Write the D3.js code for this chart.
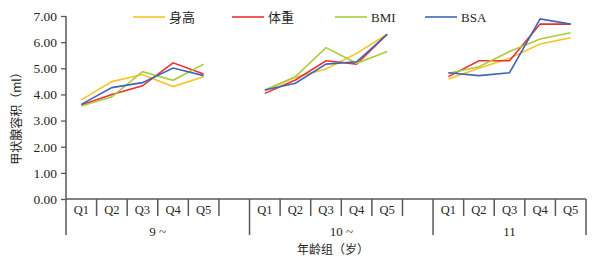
<!DOCTYPE html>
<html>
<head>
<meta charset="utf-8">
<script src="https://cdn.jsdelivr.net/npm/d3@7"></script>
<style>
  body { margin: 0; background: #fff; }
  text { fill: #262626; }
</style>
</head>
<body>
<div id="my_chart"></div>
<script>
// data
const groups = ["9 ~", "10 ~", "11"];
const quintiles = ["Q1", "Q2", "Q3", "Q4", "Q5"];
const seriesNames = ["身高", "体重", "BMI", "BSA"];
const seriesColors = ["#f7c325", "#ec2f2f", "#a8cc3c", "#3e66b8"];
// one value per slot, null where the empty slot between groups is
const heightVals = [3.79, 4.49, 4.76, 4.30, 4.68, null, 4.14, 4.66, 4.97, 5.57, 6.30, null, 4.59, 5.00, 5.38, 5.93, 6.17];
const weightVals = [3.60, 4.00, 4.33, 5.21, 4.78, null, 4.04, 4.55, 5.29, 5.16, 6.30, null, 4.68, 5.29, 5.29, 6.69, 6.69];
const bmiVals    = [3.56, 3.91, 4.87, 4.54, 5.16, null, 4.17, 4.68, 5.79, 5.19, 5.64, null, 4.81, 5.06, 5.64, 6.12, 6.36];
const bsaVals    = [3.62, 4.26, 4.45, 5.01, 4.72, null, 4.17, 4.43, 5.16, 5.25, 6.30, null, 4.83, 4.72, 4.83, 6.89, 6.69];
const yTicks = [0, 1, 2, 3, 4, 5, 6, 7];

// slots on the x axis: five quintiles per age group, one blank slot after the first two groups
const slots = [];
groups.forEach((g, gi) => {
  quintiles.forEach(q => slots.push({ id: g + q, label: q, group: gi }));
  if (gi < groups.length - 1) slots.push({ id: g + "_gap", label: "", group: gi });
});

const width = 594, height = 261;
const margin = {top: 16, right: 8, bottom: 62, left: 66};
const axisColor = "#595959";
const serif = "'Liberation Serif', 'Times New Roman', serif";
const cjk = "'Noto Sans CJK SC', sans-serif";

const svg = d3.select("#my_chart")
  .append("svg")
    .attr("width", width)
    .attr("height", height);

const x = d3.scaleBand()
  .domain(slots.map(d => d.id))
  .range([margin.left, width - margin.right])
  .padding(0);

const y = d3.scaleLinear()
  .domain([0, 7])
  .range([height - margin.bottom, margin.top]);

const y0 = y(0);

// Y axis
const yAxis = svg.append("g")
  .attr("transform", `translate(${margin.left},0)`)
  .call(d3.axisLeft(y).tickValues(yTicks).tickFormat(d3.format(".2f")).tickSize(5).tickPadding(4));
yAxis.select(".domain").remove();
yAxis.selectAll("line").attr("stroke", axisColor).attr("stroke-width", 1.3);
yAxis.selectAll("text")
  .attr("font-family", serif)
  .attr("font-size", 13.5)
  .attr("fill", "#262626");

// y axis line runs down through the category area
svg.append("line")
  .attr("x1", margin.left).attr("x2", margin.left)
  .attr("y1", y(7)).attr("y2", y0 + 36)
  .attr("stroke", axisColor).attr("stroke-width", 1.5);

// x axis baseline
svg.append("line")
  .attr("x1", margin.left).attr("x2", width - margin.right)
  .attr("y1", y0).attr("y2", y0)
  .attr("stroke", axisColor).attr("stroke-width", 1.5);

// slot separators: short ones between quintiles, long ones between groups
const bounds = slots.map((d, i) => ({
  pos: x(d.id) + x.bandwidth(),
  long: i === slots.length - 1 || slots[i + 1].group !== d.group
}));
svg.append("g").selectAll("line")
  .data(bounds)
  .join("line")
    .attr("x1", d => d.pos).attr("x2", d => d.pos)
    .attr("y1", y0)
    .attr("y2", d => d.long ? y0 + 36 : y0 + 17)
    .attr("stroke", axisColor)
    .attr("stroke-width", 1.5);

// quintile labels
svg.append("g").selectAll("text")
  .data(slots.filter(d => d.label))
  .join("text")
    .attr("x", d => x(d.id) + x.bandwidth() / 2)
    .attr("y", y0 + 15)
    .attr("text-anchor", "middle")
    .attr("font-family", serif)
    .attr("font-size", 12.5)
    .text(d => d.label);

// group labels centred under their slots
svg.append("g").selectAll("text")
  .data(groups)
  .join("text")
    .attr("x", (g, gi) => {
      const s = slots.filter(d => d.group === gi);
      return (x(s[0].id) + x(s[s.length - 1].id) + x.bandwidth()) / 2;
    })
    .attr("y", y0 + 37)
    .attr("text-anchor", "middle")
    .attr("font-family", serif)
    .attr("font-size", 13)
    .text(d => d);

// axis titles
svg.append("text")
  .attr("x", 333)
  .attr("y", y0 + 55)
  .attr("text-anchor", "middle")
  .attr("font-family", cjk)
  .attr("font-size", 12)
  .text("年龄组（岁）");

svg.append("text")
  .attr("transform", `translate(21,${(y(0) + y(7)) / 2 + 8})rotate(-90)`)
  .attr("text-anchor", "middle")
  .attr("font-family", cjk)
  .attr("font-size", 12)
  .text("甲状腺容积（ml）");

// lines, broken at the blank slots
const allSeries = [heightVals, weightVals, bmiVals, bsaVals];
const line = d3.line()
  .defined(d => d.v != null)
  .x(d => x(d.id) + x.bandwidth() / 2)
  .y(d => y(d.v));

svg.append("g").selectAll("path")
  .data(allSeries)
  .join("path")
    .attr("fill", "none")
    .attr("stroke", (d, i) => seriesColors[i])
    .attr("stroke-width", 1.6)
    .attr("stroke-linejoin", "miter")
    .attr("d", vals => line(vals.map((v, i) => ({ id: slots[i].id, v }))));

// legend
const legendX = [133, 232, 335, 425];
const legend = svg.append("g").selectAll("g")
  .data(seriesNames)
  .join("g")
    .attr("transform", (d, i) => `translate(${legendX[i]},17)`);
legend.append("line")
  .attr("x1", 0).attr("x2", 32)
  .attr("stroke", (d, i) => seriesColors[i])
  .attr("stroke-width", 1.6);
legend.append("text")
  .attr("x", 36)
  .attr("dy", "0.35em")
  .attr("font-family", d => /[A-Z]/.test(d) ? serif : cjk)
  .attr("font-size", 13)
  .text(d => d);
</script>
</body>
</html>
